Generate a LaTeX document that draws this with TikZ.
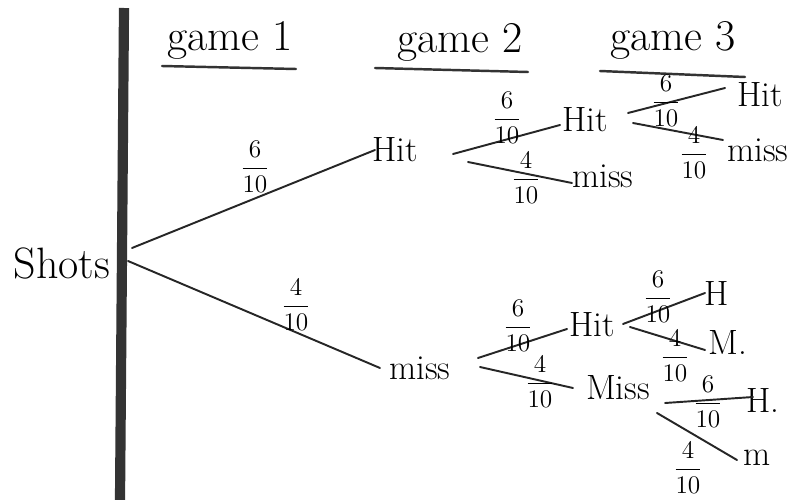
\documentclass[tikz,border=0pt]{standalone}
\usetikzlibrary{calc}
\begin{document}
\begin{tikzpicture}[x=0.02cm,y=-0.02cm,
  branch/.style={line width=1.1pt,color=black!85,line cap=round},
  word/.style={font=\fontsize{20}{24}\selectfont,inner sep=0pt},
  head/.style={font=\fontsize{25}{30}\selectfont,inner sep=0pt},
  frac/.style={font=\fontsize{14}{17}\selectfont,inner sep=0pt},
  uline/.style={line width=1.4pt,color=black!80,line cap=round}]
\useasboundingbox (0,0) rectangle (798,500);
% thick vertical bar
\coordinate (bartop) at (124,8);
\coordinate (barbot) at (120,500);
\draw[line width=5.8pt,color=black!80] (bartop) -- (barbot);
% headings
\node[head] (g1) at (230,40) {game 1};
\node[head] (g2) at (460,42) {game 2};
\node[head] (g3) at (673,40) {game 3};
\draw[uline] (162,66) -- (296,69);
\draw[uline] (375,68) -- (528,72);
\draw[uline] (600,71) -- (745,77);
% root
\node[head] (shots) at (62,263) {Shots};
\coordinate (rootA) at (132,248);
\coordinate (rootB) at (128,261);
% game 1
\node[word] (hit1) at (395,150) {Hit};
\node[word] (miss1) at (420,368) {miss};
\coordinate (hit1a) at (375,150);
\coordinate (miss1a) at (380,368);
\draw[branch] (rootA) -- (hit1a);
\draw[branch] (rootB) -- (miss1a);
\node[frac] (f1) at (255,167) {$\displaystyle\frac{6}{10}$};
\node[frac] (f2) at (296,305) {$\displaystyle\frac{4}{10}$};
% game 2, upper
\node[word] (hit2) at (585,120) {Hit};
\node[word] (miss2) at (603,176) {miss};
\coordinate (h1o) at (453,154);
\coordinate (h1p) at (468,162);
\coordinate (hit2a) at (560,125);
\coordinate (miss2a) at (572,183);
\draw[branch] (h1o) -- (hit2a);
\draw[branch] (h1p) -- (miss2a);
\node[frac] (f3) at (507,118) {$\displaystyle\frac{6}{10}$};
\node[frac] (f4) at (526,178) {$\displaystyle\frac{4}{10}$};
% game 3, upper
\node[word] (hit3) at (760,95) {Hit};
\node[word] (miss3) at (758,150) {miss};
\coordinate (h2o) at (628,113);
\coordinate (h2p) at (633,123);
\coordinate (hit3a) at (725,88);
\coordinate (miss3a) at (723,140);
\draw[branch] (h2o) -- (hit3a);
\draw[branch] (h2p) -- (miss3a);
\node[frac] (f5) at (666,101) {$\displaystyle\frac{6}{10}$};
\node[frac] (f6) at (694,153) {$\displaystyle\frac{4}{10}$};
% game 2, lower
\node[word] (hitM) at (592,325) {Hit};
\node[word] (missM) at (618,388) {Miss};
\coordinate (m1o) at (478,358);
\coordinate (m1p) at (480,367);
\coordinate (hitMa) at (567,329);
\coordinate (missMa) at (573,388);
\draw[branch] (m1o) -- (hitMa);
\draw[branch] (m1p) -- (missMa);
\node[frac] (f7) at (518,326) {$\displaystyle\frac{6}{10}$};
\node[frac] (f8) at (540,382) {$\displaystyle\frac{4}{10}$};
% game 3, lower
\node[word] (hH) at (717,293) {H};
\node[word] (hM) at (728,342) {M.};
\node[word] (mH) at (763,400) {H.};
\node[word] (mM) at (757,458) {m};
\coordinate (hMo) at (623,324);
\coordinate (hMp) at (630,327);
\coordinate (mMo) at (665,403);
\coordinate (mMp) at (657,413);
\coordinate (hHa) at (705,293);
\coordinate (hMa) at (705,350);
\coordinate (mHa) at (753,397);
\coordinate (mMa) at (737,460);
\draw[branch] (hMo) -- (hHa);
\draw[branch] (hMp) -- (hMa);
\draw[branch] (mMo) -- (mHa);
\draw[branch] (mMp) -- (mMa);
\node[frac] (f9) at (658,297) {$\displaystyle\frac{6}{10}$};
\node[frac] (f10) at (675,356) {$\displaystyle\frac{4}{10}$};
\node[frac] (f11) at (708,402) {$\displaystyle\frac{6}{10}$};
\node[frac] (f12) at (688,468) {$\displaystyle\frac{4}{10}$};
\end{tikzpicture}
\end{document}
